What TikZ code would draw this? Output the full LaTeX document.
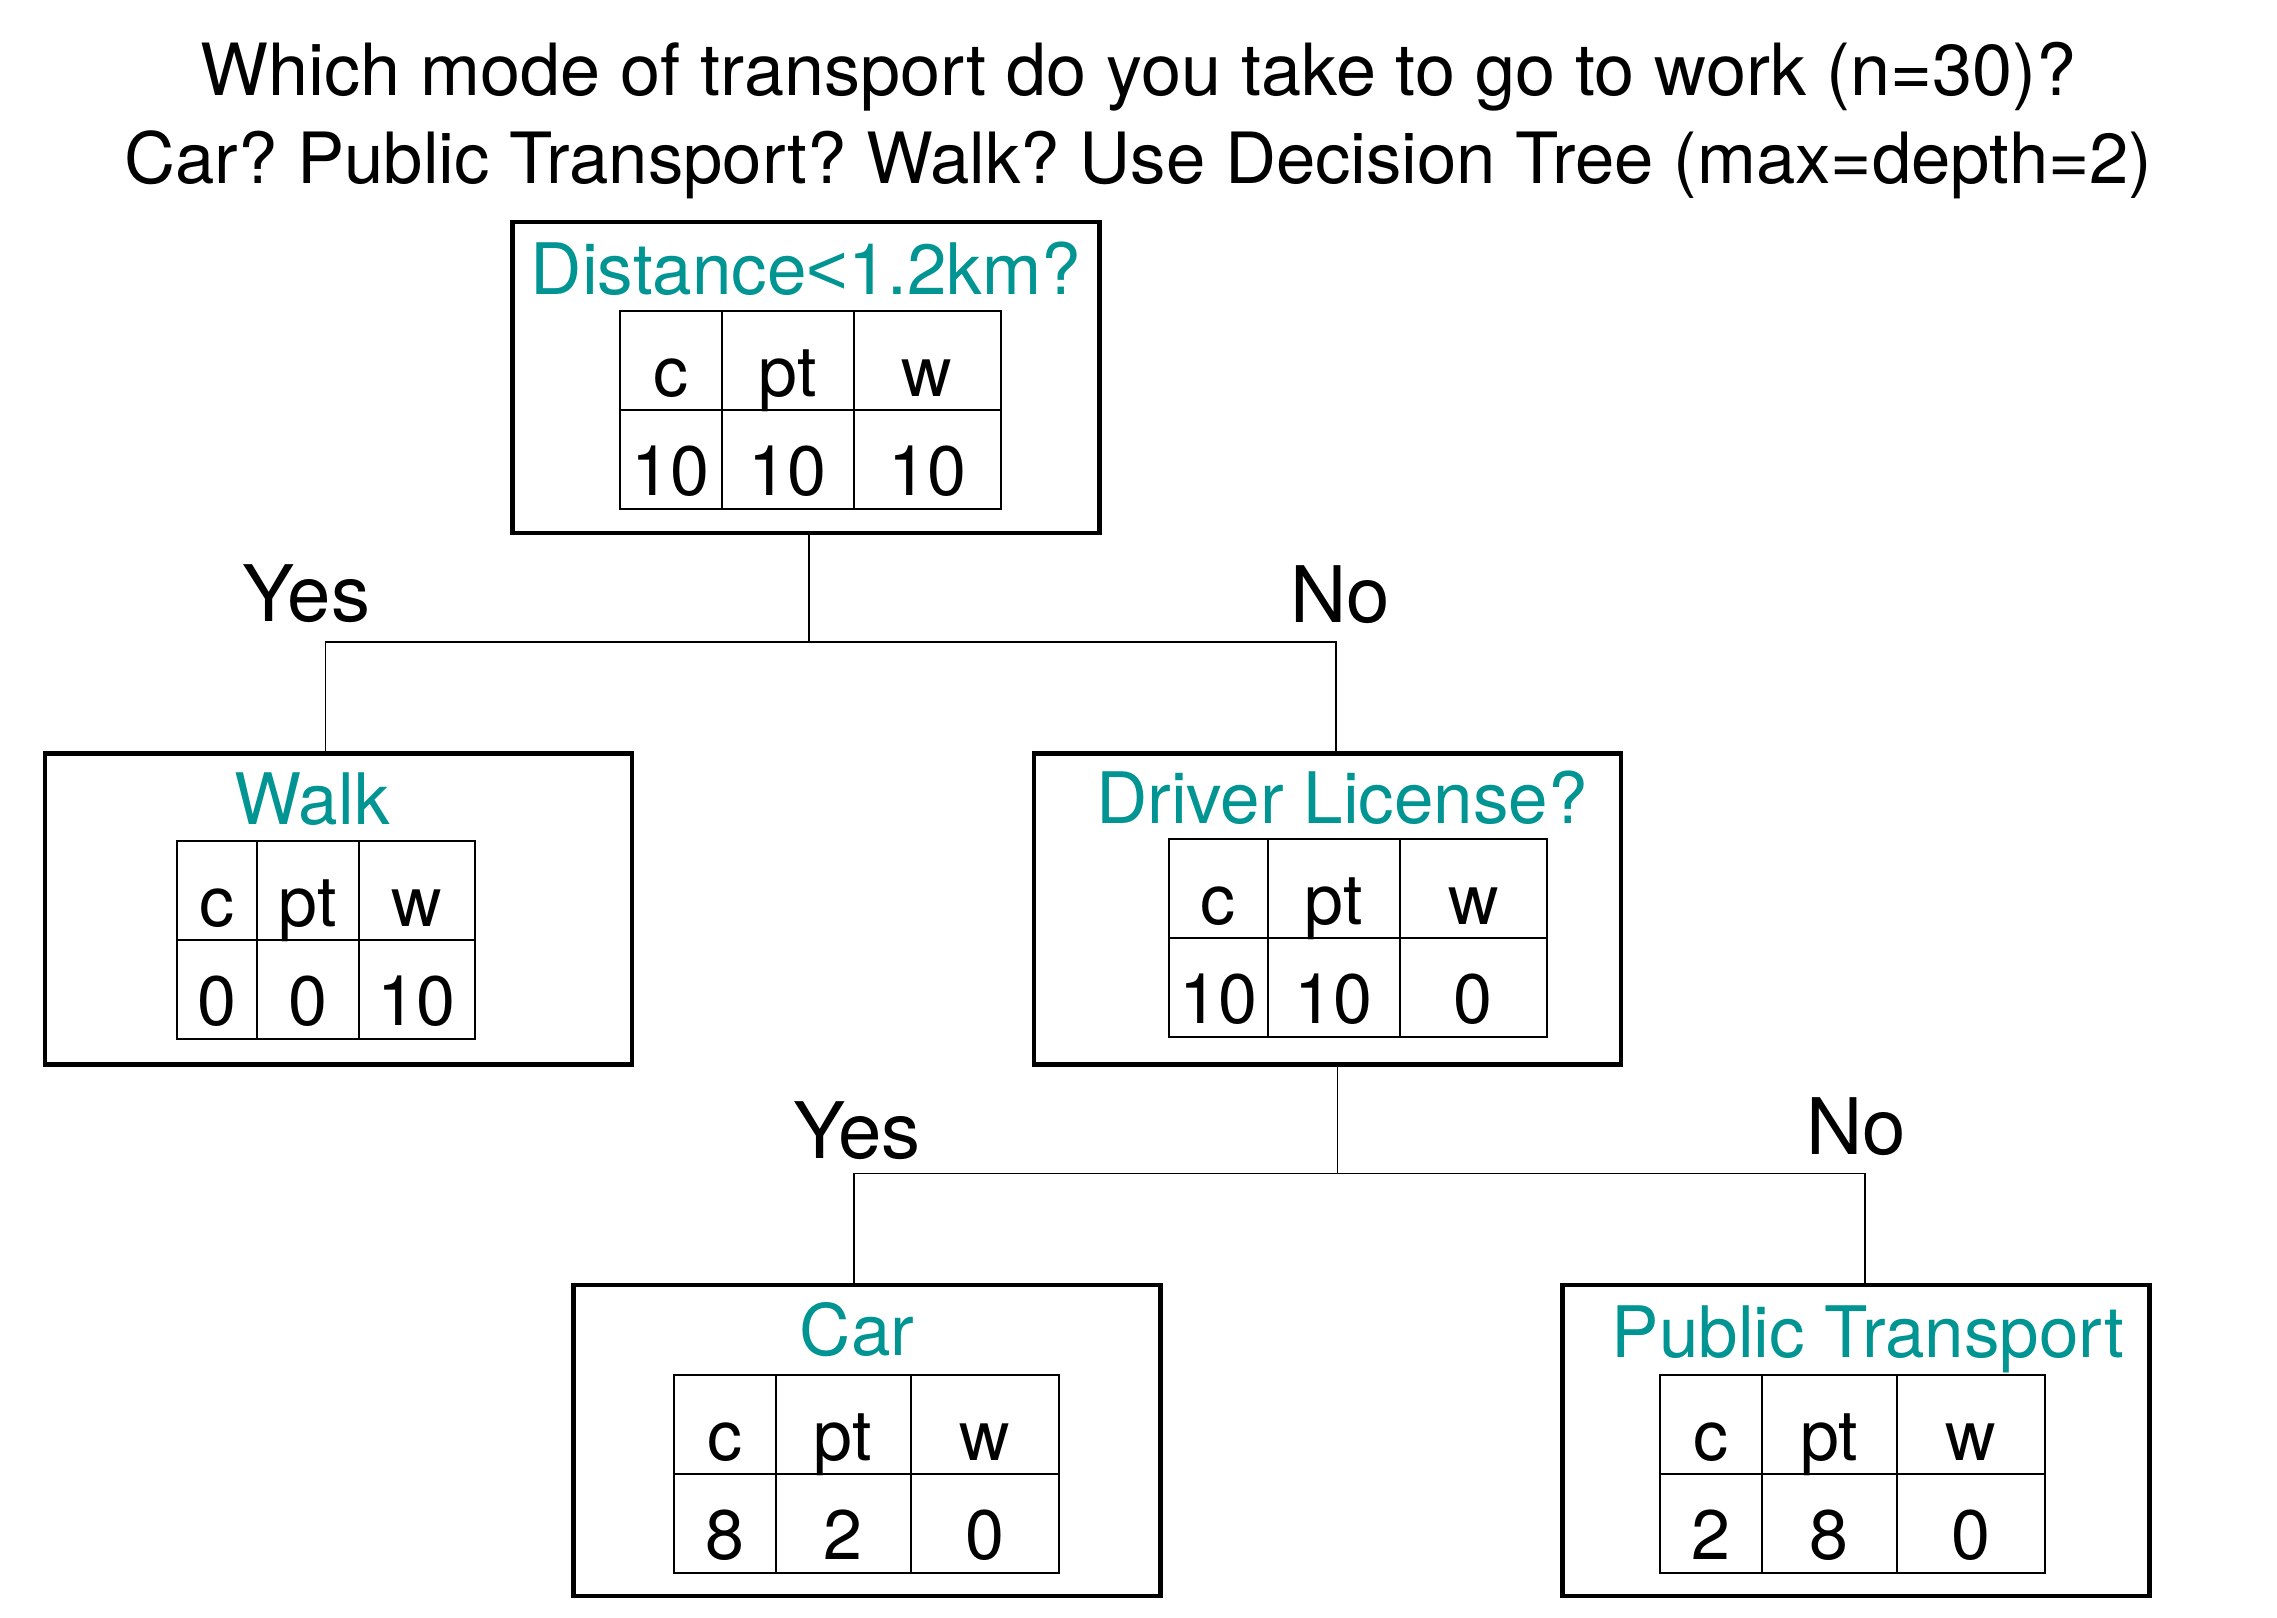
\documentclass[tikz,border=0pt]{standalone}
\usepackage{fontspec}
\setmainfont{TeX Gyre Heros}
\newfontfamily\ltfont{Liberation Sans}
\frenchspacing
\definecolor{tealtxt}{RGB}{0,148,146}
\tikzset{
  box/.style={draw=black, line width=4.5pt, minimum width=586.7pt, minimum height=310.8pt, inner sep=0pt, fill=white},
  tabline/.style={draw=black, line width=2pt},
  conn/.style={draw=black, line width=1.8pt},
  cell/.style={inner sep=0pt, anchor=base, font=\fontsize{70}{84}\selectfont},
  ttl/.style={inner sep=0pt, anchor=base, text=tealtxt, font=\fontsize{71}{85}\selectfont},
  yn/.style={inner sep=0pt, anchor=base, font=\fontsize{78}{94}\selectfont},
  head/.style={inner sep=0pt, anchor=base, font=\fontsize{72}{86}\selectfont},
  headb/.style={inner sep=0pt, anchor=base, font=\fontsize{70.7}{86}\selectfont}
}
% table: left, top, col1, col2, right, v1, v2, v3
\newcommand\dtab[8]{%
  \draw[tabline] (#1,#2) rectangle (#5,#2+198);
  \draw[tabline] (#1,#2+99) -- (#5,#2+99);
  \draw[tabline] (#3,#2) -- (#3,#2+198);
  \draw[tabline] (#4,#2) -- (#4,#2+198);
  \node[cell] at ({(#1+#3)/2},#2+85) {c};
  \node[cell] at ({(#3+#4)/2},#2+85) {pt};
  \node[cell] at ({(#4+#5)/2},#2+85) {w};
  \node[cell] at ({(#1+#3)/2},#2+184) {#6};
  \node[cell] at ({(#3+#4)/2},#2+184) {#7};
  \node[cell] at ({(#4+#5)/2},#2+184) {#8};
}
\begin{document}
\begin{tikzpicture}[x=1pt,y=-1pt]
\useasboundingbox[fill=white] (0,0) rectangle (2277,1617);

% title
\node[head] (t1) at (1138.5,95) {Which mode of transport do you take to go to work (n=30)?};
\node[headb] (t2) at (1138.5,183) {Car? Public Transport? Walk? Use Decision Tree (max=depth=2)};

% boxes
\node[box] (root) at (806,377.6) {};
\node[box] (walk) at (338.4,909.1) {};
\node[box] (dl) at (1327.4,909.1) {};
\node[box] (car) at (867,1440.6) {};
\node[box] (pt) at (1856,1440.6) {};

% box titles
\node[ttl] (roott) at (806,294) {Distance{\ltfont <}1.2km?};
\node[ttl] (walkt) at (312,824) {Walk};
\node[ttl] (dlt) at (1342,823) {Driver License?};
\node[ttl] (cart) at (857,1355) {Car};
\node[ttl] (ptt) at (1868,1357) {Public Transport};

% tables
\dtab{620}{311}{721.7}{853.9}{1000.6}{10}{10}{10}
\dtab{177.2}{841}{257}{358.7}{474.9}{0}{0}{10}
\dtab{1169}{839}{1267.8}{1399.9}{1546.6}{10}{10}{0}
\dtab{673.8}{1375}{775.5}{910.5}{1058.7}{8}{2}{0}
\dtab{1659.9}{1375}{1761.5}{1896.6}{2044.7}{2}{8}{0}

% connectors
\coordinate (j1) at ([xshift=3pt]root.south |- 0,641.9);
\coordinate (j2) at ([xshift=10pt]dl.south |- 0,1173.4);
\draw[conn] ([xshift=3pt]root.south) -- (j1);
\draw[conn] ([xshift=-13pt]walk.north) |- (j1) -| ([xshift=8.6pt]dl.north);
\draw[conn] ([xshift=10pt]dl.south) -- (j2);
\draw[conn] ([xshift=-13pt]car.north) |- (j2) -| ([xshift=8.6pt]pt.north);

% edge labels
\node[yn] (y1) at (306.5,621.7) {Yes};
\node[yn] (n1) at (1340,622.7) {No};
\node[yn] (y2) at (857,1158) {Yes};
\node[yn] (n2) at (1856,1154) {No};
\end{tikzpicture}
\end{document}
